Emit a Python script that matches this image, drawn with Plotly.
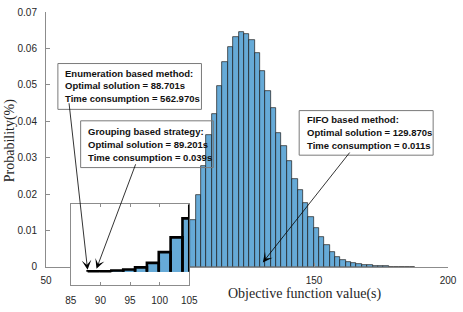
import numpy as np
import plotly.graph_objects as go

# ---------------- data ----------------
bin_start = 87.85
bin_width = 2.0
probs = [0.000137, 0.000137, 0.0003, 0.00053, 0.00105, 0.00213, 0.00471, 0.00823,
         0.0128, 0.0198, 0.0276, 0.0361, 0.0420, 0.0497, 0.0562, 0.0603, 0.0630, 0.0645,
         0.0640, 0.0623, 0.0588, 0.0537, 0.0484, 0.0435, 0.0367, 0.0333, 0.0291, 0.0242,
         0.0210, 0.0175, 0.0137, 0.0107, 0.0082, 0.0060, 0.0040, 0.0027, 0.0018, 0.0014,
         0.0010, 0.0008, 0.0006, 0.00045, 0.0003, 0.0002, 0.00015, 0.0001, 0.00008,
         0.00005, 0.00003, 0.00002]
main_xticks = [50, 150, 200]
main_yticks = [0, 0.01, 0.02, 0.03, 0.04, 0.05, 0.06, 0.07]
inset_xticks = [85, 90, 95, 100, 105]
box_texts = [
    ["Enumeration based method:", "Optimal solution = 88.701s", "Time consumption = 562.970s"],
    ["Grouping based strategy:", "Optimal solution = 89.201s", "Time consumption = 0.039s"],
    ["FIFO based method:", "Optimal solution = 129.870s", "Time consumption = 0.011s"],
]

# ---------------- layout geometry (pixels) ----------------
W, H = 463, 312
ML, MR, MT, MB = 46, 11, 6, 20
PW, PH = W - ML - MR, H - MT - MB


def px(x):
    return (x - ML) / PW


def py(y):
    return (H - MB - y) / PH


MAIN_X = [50, 200]
MAIN_Y = [0, 0.07]
INSET_X = [85, 105]
INSET_Y = [-0.0031, 0.0162]

edges = bin_start + bin_width * np.arange(len(probs) + 1)
centers = edges[:-1] + bin_width / 2

FILL = "#66AAD7"
AX = "#8c8c8c"
TXT = "#262626"
SANS = "Liberation Sans, Arial, Helvetica, sans-serif"
SERIF = "Liberation Serif, Times New Roman, serif"

fig = go.Figure()

fig.add_trace(go.Bar(x=centers, y=probs, width=bin_width, marker=dict(color=FILL, line=dict(color="#1a1a1a", width=0.7)),
                     xaxis="x", yaxis="y", showlegend=False))

# inset: filled bars + thick outline
fig.add_trace(go.Bar(x=centers, y=probs, width=bin_width, marker=dict(color=FILL, line=dict(width=0)),
                     xaxis="x2", yaxis="y2", showlegend=False))
ox, oy = [], []
for i, v in enumerate(probs):
    ox += [edges[i], edges[i], edges[i + 1], edges[i + 1], None]
    oy += [0, v, v, 0, None]
fig.add_trace(go.Scatter(x=ox, y=oy, mode="lines", line=dict(color="black", width=2.6),
                         xaxis="x2", yaxis="y2", showlegend=False, hoverinfo="skip"))

fig.update_layout(
    width=W, height=H, margin=dict(l=ML, r=MR, t=MT, b=MB),
    paper_bgcolor="white", plot_bgcolor="white", bargap=0, showlegend=False,
    font=dict(family=SANS, size=10, color=TXT),
    xaxis=dict(domain=[0, 1], range=MAIN_X, anchor="y", tickvals=main_xticks, ticks="inside", ticklen=4,
               tickcolor=AX, showline=True, linecolor=AX, linewidth=1, showgrid=False, zeroline=False,
               ticklabelstandoff=4, ticklabeloverflow="allow", tickfont=dict(size=10, color=TXT)),
    yaxis=dict(domain=[py(273), 1], range=MAIN_Y, anchor="x", tickvals=main_yticks,
               ticktext=[("%g" % v) for v in main_yticks], ticks="inside", ticklen=4, tickcolor=AX,
               showline=True, linecolor=AX, linewidth=1, showgrid=False, zeroline=False,
               ticklabelstandoff=6, ticklabeloverflow="allow", tickfont=dict(size=10, color=TXT)),
    xaxis2=dict(domain=[px(71), px(190.7)], range=INSET_X, anchor="y2", tickvals=inset_xticks,
                ticks="inside", ticklen=3, tickcolor=AX, showline=True, mirror="ticks", linecolor=AX,
                linewidth=1, showgrid=False, zeroline=False, ticklabelstandoff=6, ticklabeloverflow="allow",
                tickfont=dict(size=10, color=TXT)),
    yaxis2=dict(domain=[py(291.7), py(207.3)], range=INSET_Y, anchor="x2", showticklabels=False, ticks="",
                showline=True, mirror=True, linecolor=AX, linewidth=1, showgrid=False, zeroline=False),
)

shapes = []
# clipped right edge of the inset histogram outline
shapes.append(dict(type="line", xref="x2", yref="y2", x0=INSET_X[1], x1=INSET_X[1], y0=0, y1=INSET_Y[1],
                   line=dict(color="black", width=2.6)))
boxes = [(58, 60, 203, 108), (81, 120, 215, 169), (301.7, 109.3, 437, 156)]
for (x0, y0, x1, y1) in boxes:
    shapes.append(dict(type="rect", xref="paper", yref="paper", x0=px(x0), x1=px(x1), y0=py(y1), y1=py(y0),
                       line=dict(color="#7a7a7a", width=1), fillcolor="rgba(0,0,0,0)", layer="above"))
fig.update_layout(shapes=shapes)

ann = []
text_pos = [(63.3, [70, 83.3, 96.7]), (86, [131.7, 145, 158.3]), (307.3, [119, 132.7, 146])]
for lines, (tx, tys) in zip(box_texts, text_pos):
    for line, ty in zip(lines, tys):
        ann.append(dict(xref="paper", yref="paper", x=px(tx), y=py(ty), xanchor="left", yanchor="middle",
                        text="<b>%s</b>" % line, showarrow=False, font=dict(family=SANS, size=9.5, color="#111")))

arrows = [((88, 276), (69.3, 108)), ((97, 275), (136.7, 169)), ((265, 268.3), (353, 157))]
for (tip, tail) in arrows:
    ann.append(dict(xref="paper", yref="paper", x=px(tip[0]), y=py(tip[1]), text="", showarrow=True,
                    ax=tail[0] - tip[0], ay=tail[1] - tip[1], axref="pixel", ayref="pixel",
                    arrowhead=3, arrowsize=2.0, arrowwidth=0.8, arrowcolor="black", standoff=0))

ann.append(dict(xref="paper", yref="paper", x=px(10), y=py(140), text="Probability(%)", textangle=-90,
                showarrow=False, xanchor="center", yanchor="middle", font=dict(family=SERIF, size=14, color=TXT)))
ann.append(dict(xref="paper", yref="paper", x=px(307.5), y=py(301), text="Objective function value(s)",
                showarrow=False, xanchor="center", yanchor="middle", font=dict(family=SERIF, size=14, color=TXT)))
fig.update_layout(annotations=ann)

fig.write_html("out.html", config={"displayModeBar": False},
               post_script="document.body.style.margin='0px';")
